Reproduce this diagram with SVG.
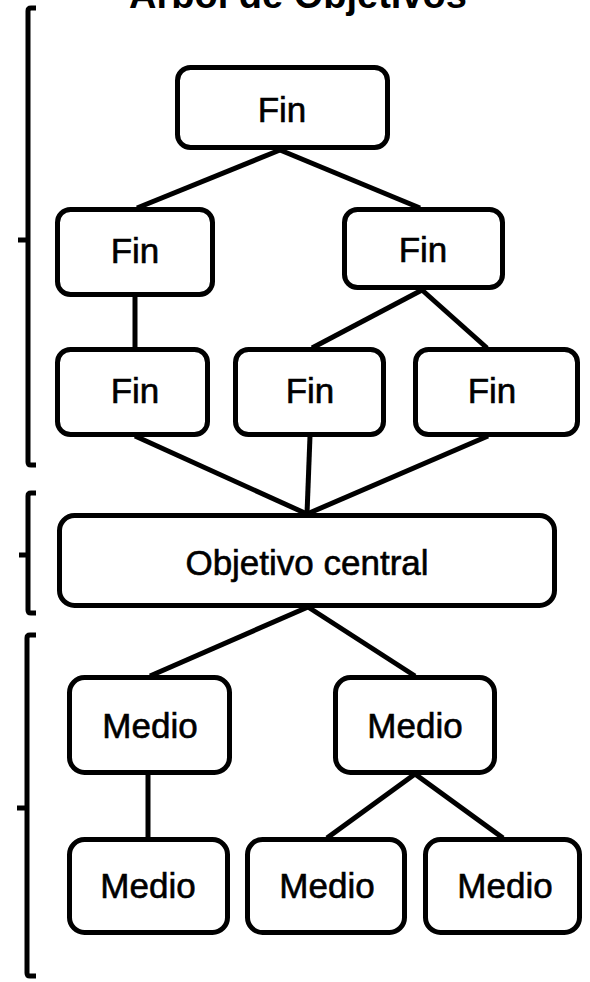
<svg xmlns="http://www.w3.org/2000/svg" width="590" height="982" viewBox="0 0 590 982">
<style>
.box{fill:#fff;stroke:#000;stroke-width:5}
.lbl{font-family:"Liberation Sans",Arial,sans-serif;font-size:35px;fill:#000;stroke:#000;stroke-width:0.6;text-anchor:middle}
.ttl{font-family:"Liberation Sans",Arial,sans-serif;font-size:38px;font-weight:bold;fill:#000;text-anchor:middle}
.con line{stroke:#000;stroke-width:5}
.brk{fill:none;stroke:#000;stroke-width:5;stroke-linejoin:round}
</style>
<rect width="590" height="982" fill="#fff"/>
<text class="ttl" x="298" y="8">Árbol de Objetivos</text>
<g id="brackets">
<path class="brk" d="M36,8 L31,8 Q28,8 28,11 L28,462 Q28,465 31,465 L36,465 M28,240 L18,240"/>
<path class="brk" d="M36,493 L31,493 Q28,493 28,496 L28,610 Q28,613 31,613 L36,613 M28,555 L19,555"/>
<path class="brk" d="M36,635 L30,635 Q27,635 27,638 L27,973 Q27,976 30,976 L36,976 M27,808 L17,808"/>
</g>
<g id="connectors" class="con">
<line x1="280" y1="150" x2="137" y2="208"/>
<line x1="280" y1="150" x2="420" y2="208"/>
<line x1="135" y1="296" x2="135" y2="348"/>
<line x1="422" y1="290" x2="312" y2="348"/>
<line x1="422" y1="290" x2="487" y2="348"/>
<line x1="135" y1="436" x2="307" y2="514"/>
<line x1="310" y1="436" x2="307" y2="514"/>
<line x1="488" y1="436" x2="307" y2="514"/>
<line x1="308" y1="607" x2="150" y2="676"/>
<line x1="308" y1="607" x2="415" y2="676"/>
<line x1="148" y1="774" x2="148" y2="838"/>
<line x1="415" y1="774" x2="327" y2="838"/>
<line x1="415" y1="774" x2="503" y2="838"/>
</g>
<g id="fin0"><rect class="box" x="177.5" y="67.5" width="210" height="80" rx="13"/><text class="lbl" x="282" y="122">Fin</text></g>
<g id="fin1"><rect class="box" x="57.5" y="209.5" width="155" height="85" rx="13"/><text class="lbl" x="135" y="263">Fin</text></g>
<g id="fin2"><rect class="box" x="344.5" y="209.5" width="158" height="78" rx="13"/><text class="lbl" x="423" y="262">Fin</text></g>
<g id="fin3"><rect class="box" x="57.5" y="349.5" width="150" height="85" rx="13"/><text class="lbl" x="135" y="403">Fin</text></g>
<g id="fin4"><rect class="box" x="235.5" y="349.5" width="148" height="85" rx="13"/><text class="lbl" x="310" y="403">Fin</text></g>
<g id="fin5"><rect class="box" x="415.5" y="349.5" width="162" height="85" rx="13"/><text class="lbl" x="492" y="403">Fin</text></g>
<g id="central"><rect class="box" x="59.5" y="515.5" width="495" height="90" rx="15"/><text class="lbl" x="307" y="575">Objetivo central</text></g>
<g id="medio1"><rect class="box" x="69.5" y="677.5" width="160" height="95" rx="15"/><text class="lbl" x="150" y="738">Medio</text></g>
<g id="medio2"><rect class="box" x="335.5" y="677.5" width="159" height="95" rx="15"/><text class="lbl" x="415" y="738">Medio</text></g>
<g id="medio3"><rect class="box" x="69.5" y="839.5" width="158" height="93" rx="15"/><text class="lbl" x="148" y="898">Medio</text></g>
<g id="medio4"><rect class="box" x="247.5" y="839.5" width="157" height="93" rx="15"/><text class="lbl" x="327" y="898">Medio</text></g>
<g id="medio5"><rect class="box" x="425.5" y="839.5" width="154" height="93" rx="15"/><text class="lbl" x="505" y="898">Medio</text></g>
</svg>
